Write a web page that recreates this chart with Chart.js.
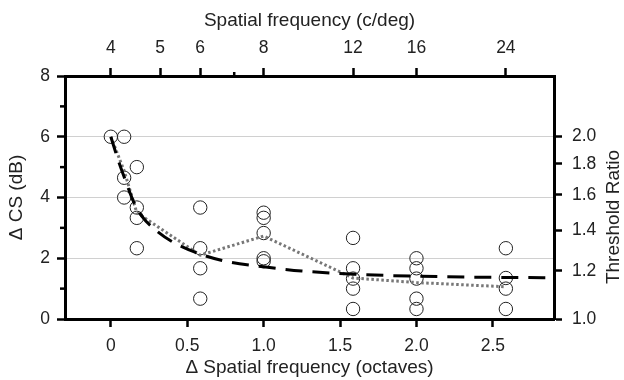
<!DOCTYPE html>
<html>
<head>
<meta charset="utf-8">
<script src="https://cdn.jsdelivr.net/npm/chart.js@4"></script>
<style>
  html, body { margin: 0; padding: 0; background: #fff; }
  #wrap { width: 624px; height: 380px; }
</style>
</head>
<body>
<div id="wrap"><canvas id="mycanvas"></canvas></div>
<script>
// individual observers (octaves from 4 c/deg, delta CS in dB)
var pointOctaves = [0,
  0.087, 0.087, 0.087,
  0.17, 0.17, 0.17, 0.17,
  0.585, 0.585, 0.585, 0.585,
  1.0, 1.0, 1.0, 1.0, 1.0,
  1.585, 1.585, 1.585, 1.585, 1.585,
  2.0, 2.0, 2.0, 2.0, 2.0,
  2.585, 2.585, 2.585, 2.585];
var pointDeltaCS = [6.0,
  6.0, 4.65, 4.0,
  5.0, 3.67, 3.33, 2.33,
  3.67, 2.33, 1.67, 0.67,
  3.5, 3.33, 2.83, 2.0, 1.9,
  2.67, 1.67, 1.33, 1.0, 0.33,
  2.0, 1.67, 1.33, 0.67, 0.33,
  2.33, 1.35, 1.0, 0.33];

// mean line (gray dotted)
var meanOctaves = [0, 0.087, 0.17, 0.585, 1.0, 1.585, 2.0, 2.585];
var meanDeltaCS = [6.0, 4.88, 3.5, 2.1, 2.73, 1.35, 1.2, 1.06];

// fitted curve (black dashed)
var fitOctaves = [0, 0.05, 0.1, 0.15, 0.2, 0.3, 0.4, 0.55, 0.75, 1.0, 1.25, 1.6, 2.0, 2.5, 2.9];
var fitDeltaCS = [6.0, 5.2, 4.5, 3.85, 3.4, 2.9, 2.55, 2.2, 1.9, 1.72, 1.58, 1.47, 1.41, 1.37, 1.36];

var octaveTicks = [0, 0.5, 1, 1.5, 2, 2.5];
var freqTicks = [4, 5, 6, 7, 8, 12, 16, 24];
var csTicks = [0, 2, 4, 6, 8];
var csMinorTicks = [1, 3, 5, 7];
var ratioTicks = [1.0, 1.2, 1.4, 1.6, 1.8, 2.0];

var FONT = "'Liberation Sans', Arial, Helvetica, sans-serif";

function toXY(xs, ys) {
  var out = [];
  for (var i in xs) out.push({x: xs[i], y: ys[i]});
  return out;
}

var extras = {
  id: 'extras',
  afterDraw: function(chart) {
    var ctx = chart.ctx;
    var y = chart.scales.y, x2 = chart.scales.x2;
    ctx.save();
    ctx.strokeStyle = '#000';
    ctx.lineWidth = 2.5;
    // short minor ticks on the left axis
    csMinorTicks.forEach(function(v) {
      var py = y.getPixelForValue(v);
      ctx.beginPath();
      ctx.moveTo(y.right, py);
      ctx.lineTo(y.right - 5, py);
      ctx.stroke();
    });
    // short tick for 7 c/deg on the top axis
    var px = x2.getPixelForValue(Math.log2(7 / 4));
    ctx.beginPath();
    ctx.moveTo(px, x2.bottom);
    ctx.lineTo(px, x2.bottom - 4);
    ctx.stroke();
    // right axis title, reading bottom to top
    ctx.fillStyle = '#222';
    ctx.font = '19px ' + FONT;
    ctx.textAlign = 'center';
    ctx.textBaseline = 'middle';
    ctx.translate(614, 217);
    ctx.rotate(-Math.PI / 2);
    ctx.fillText('Threshold Ratio', 0, 0);
    ctx.restore();
  }
};

var tickFont = {family: FONT, size: 17.5};
var titleFont = {family: FONT, size: 19};

var ctx = document.getElementById('mycanvas');
var chart = new Chart(ctx, {
  type: 'scatter',
  data: {
    datasets: [
      {
        label: 'fit',
        data: toXY(fitOctaves, fitDeltaCS),
        showLine: true,
        borderColor: '#000',
        borderWidth: 3,
        borderDash: [17, 10],
        pointRadius: 0,
        cubicInterpolationMode: 'monotone',
        fill: false
      },
      {
        label: 'mean',
        data: toXY(meanOctaves, meanDeltaCS),
        showLine: true,
        borderColor: '#777',
        borderWidth: 3,
        borderDash: [2.5, 2.5],
        pointRadius: 0,
        tension: 0,
        fill: false
      },
      {
        label: 'observers',
        data: toXY(pointOctaves, pointDeltaCS),
        showLine: false,
        pointRadius: 6.7,
        pointBorderWidth: 1,
        borderColor: '#222',
        backgroundColor: 'rgba(0,0,0,0)',
        pointBackgroundColor: 'rgba(0,0,0,0)'
      }
    ]
  },
  options: {
    responsive: true,
    maintainAspectRatio: false,
    animation: false,
    layout: {padding: 0},
    plugins: {legend: {display: false}, tooltip: {enabled: false}},
    scales: {
      x: {
        type: 'linear', position: 'bottom', min: -0.3, max: 2.9,
        afterBuildTicks: function(s) { s.ticks = octaveTicks.map(function(v) { return {value: v}; }); },
        afterFit: function(s) { s.height = 61; },
        ticks: {
          autoSkip: false, maxRotation: 0, padding: 9, color: '#222', font: tickFont,
          callback: function(v) { return v === 0 ? '0' : v.toFixed(1); }
        },
        grid: {drawOnChartArea: false, drawTicks: true, tickLength: 8, tickWidth: 2.5, tickColor: '#000'},
        border: {display: true, width: 3, color: '#000'},
        title: {display: true, text: 'Δ Spatial frequency (octaves)', color: '#222', font: titleFont, padding: {top: 0, bottom: 1}}
      },
      x2: {
        type: 'linear', position: 'top', min: -0.3, max: 2.9,
        afterBuildTicks: function(s) { s.ticks = freqTicks.map(function(f) { return {value: Math.log2(f / 4)}; }); },
        afterFit: function(s) { s.height = 76; },
        ticks: {
          autoSkip: false, maxRotation: 0, padding: 9, color: '#222', font: tickFont,
          callback: function(v, i) { return freqTicks[i] === 7 ? '' : String(freqTicks[i]); }
        },
        grid: {
          drawOnChartArea: false, drawTicks: true, tickLength: 8, tickWidth: 2.5,
          tickColor: function(c) { return freqTicks[c.index] === 7 ? 'rgba(0,0,0,0)' : '#000'; }
        },
        border: {display: true, width: 3, color: '#000'},
        title: {display: true, text: 'Spatial frequency (c/deg)', color: '#222', font: titleFont, padding: {top: 9, bottom: 0}}
      },
      y: {
        type: 'linear', position: 'left', min: 0, max: 8,
        afterBuildTicks: function(s) { s.ticks = csTicks.map(function(v) { return {value: v}; }); },
        afterFit: function(s) { s.width = 65; },
        ticks: {autoSkip: false, padding: 7, color: '#222', font: tickFont},
        grid: {
          drawOnChartArea: true, drawTicks: true, tickLength: 8, tickWidth: 2.5, tickColor: '#000', lineWidth: 1,
          color: function(c) { return (c.tick && (c.tick.value === 0 || c.tick.value === 8)) ? 'rgba(0,0,0,0)' : '#d0d0d0'; }
        },
        border: {display: true, width: 3, color: '#000'},
        title: {display: true, text: 'Δ CS (dB)', color: '#222', font: titleFont, padding: {top: 5, bottom: 0}}
      },
      y2: {
        type: 'linear', position: 'right', min: 0, max: 8,
        afterBuildTicks: function(s) { s.ticks = ratioTicks.map(function(r) { return {value: 20 * Math.log10(r)}; }); },
        afterFit: function(s) { s.width = 70; },
        ticks: {
          autoSkip: false, padding: 10, color: '#222', font: tickFont,
          callback: function(v, i) { return ratioTicks[i].toFixed(1); }
        },
        grid: {drawOnChartArea: false, drawTicks: true, tickLength: 8, tickWidth: 2.5, tickColor: '#000'},
        border: {display: true, width: 3, color: '#000'}
      }
    }
  },
  plugins: [extras]
});
</script>
</body>
</html>
